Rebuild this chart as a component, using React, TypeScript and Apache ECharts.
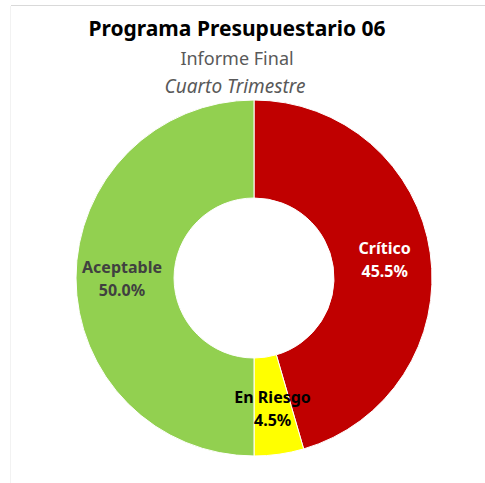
import React, { useEffect, useRef } from "react";
import * as echarts from "echarts";

const categories = ["Crítico", "En Riesgo", "Aceptable"];
const values = [45.5, 4.5, 50.0];
const colors = ["#C00000", "#FFFF00", "#92D050"];
const labelColors = ["#FFFFFF", "#000000", "#404040"];

export default function App() {
  const ref = useRef<HTMLDivElement>(null);
  useEffect(() => {
    if (!ref.current) return;
    const chart = echarts.init(ref.current, null, { renderer: "svg" });
    chart.setOption({
      animation: false,
      backgroundColor: "#FFFFFF",
      title: [
        {
          text: "Programa Presupuestario 06",
          left: 232,
          textAlign: "center",
          top: 12,
          textStyle: { fontFamily: "Noto Sans", fontWeight: "bold", fontSize: 21, color: "#000000" },
        },
        {
          text: "Informe Final",
          left: 232,
          textAlign: "center",
          top: 44,
          textStyle: { fontFamily: "Noto Sans", fontWeight: "normal", fontSize: 18, color: "#595959" },
        },
        {
          text: "Cuarto Trimestre",
          left: 230,
          textAlign: "center",
          top: 71,
          textStyle: { fontFamily: "Noto Sans", fontStyle: "italic", fontWeight: "normal", fontSize: 19, color: "#595959" },
        },
      ],
      graphic: [
        { type: "line", shape: { x1: 11, y1: 5.5, x2: 485, y2: 5.5 }, style: { stroke: "#D9D9D9", lineWidth: 1 } },
        { type: "line", shape: { x1: 10.5, y1: 6, x2: 10.5, y2: 483 }, style: { stroke: "#F2F2F2", lineWidth: 1 } },
      ],
      series: [
        {
          type: "pie",
          center: [254, 278],
          radius: [80, 178],
          startAngle: 90,
          clockwise: true,
          avoidLabelOverlap: false,
          itemStyle: { borderColor: "#FFFFFF", borderWidth: 1 },
          label: {
            show: true,
            position: "inside",
            fontFamily: "Noto Sans",
            fontWeight: "bold",
            fontSize: 16,
            lineHeight: 23,
            formatter: (p: any) => `${p.name}\n${p.value.toFixed(1)}%`,
          },
          labelLine: { show: false },
          emphasis: { disabled: true },
          data: categories.map((c, i) => ({
            name: c,
            value: values[i],
            itemStyle: { color: colors[i] },
            label: { color: labelColors[i] },
          })),
        },
      ],
    });
    return () => chart.dispose();
  }, []);
  return <div ref={ref} style={{ position: "fixed", left: 0, top: 0, width: 485, height: 483 }} />;
}
